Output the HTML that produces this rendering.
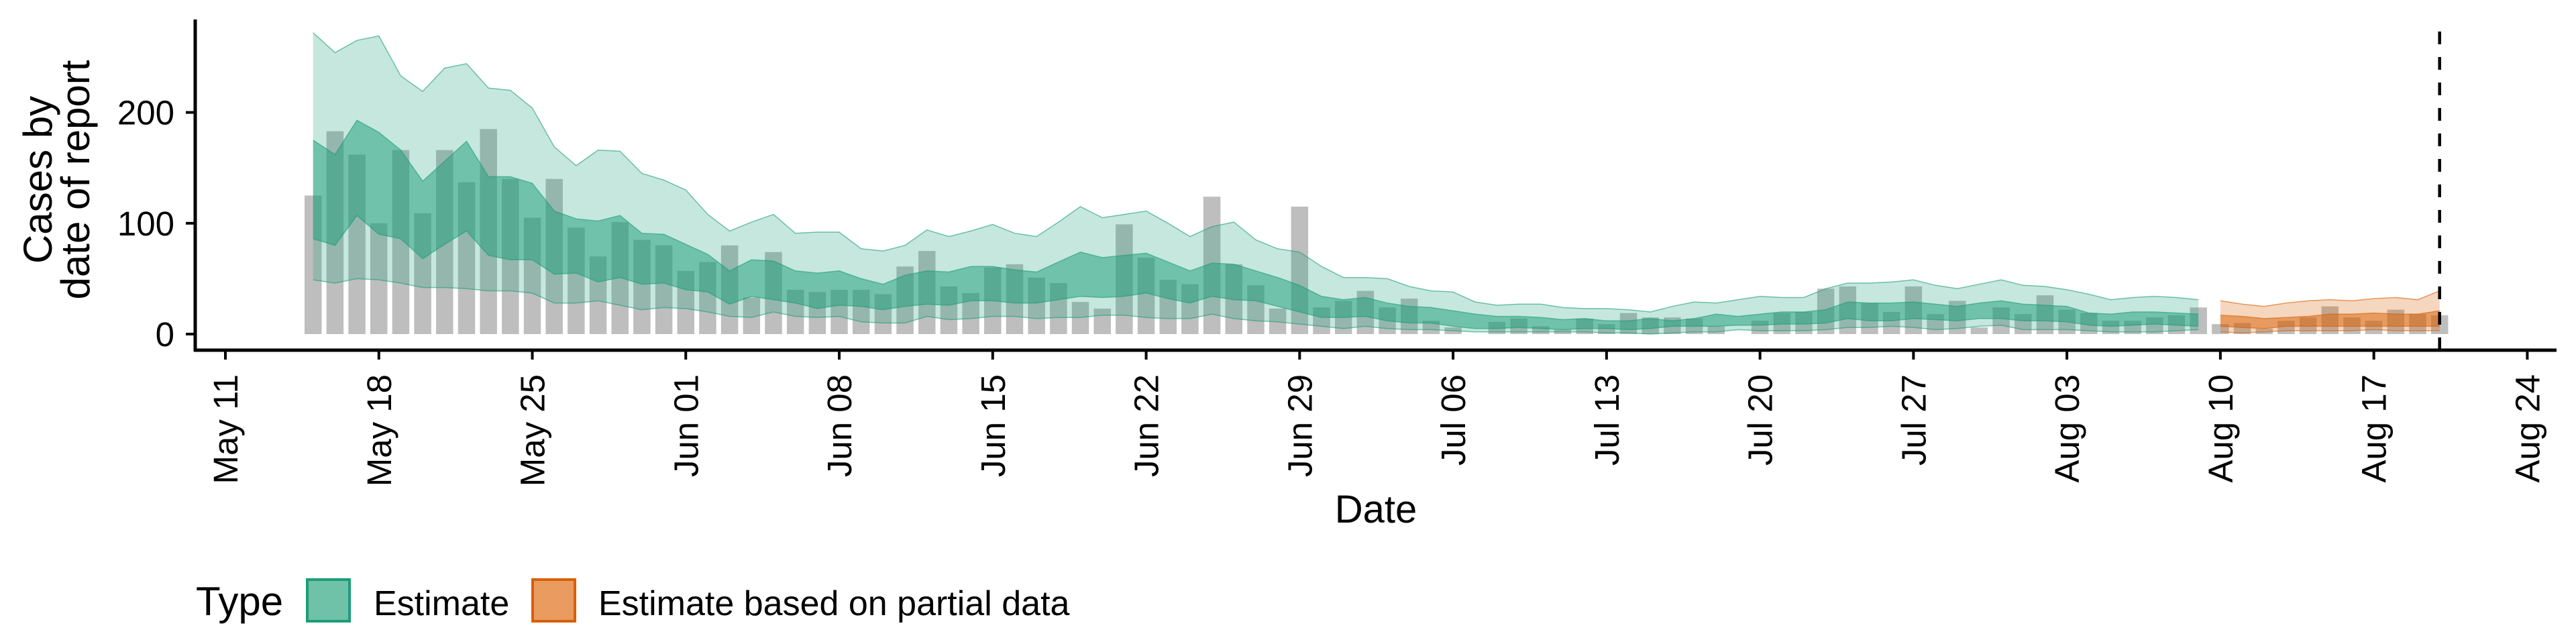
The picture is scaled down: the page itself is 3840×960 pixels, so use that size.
<!DOCTYPE html>
<html><head><meta charset="utf-8"><style>
html,body{margin:0;padding:0;background:#fff;}
svg{display:block;font-family:"Liberation Sans",sans-serif;}
</style></head><body>
<svg id="chart" width="3840" height="960" viewBox="0 0 3840 960" xmlns="http://www.w3.org/2000/svg">
<g id="bars"></g>
<g id="ribbons"></g>
<g id="axes"></g>
<g id="legend">
<text x="292" y="917" font-size="60">Type</text>
<rect x="458" y="864" width="63" height="62" fill="#6fc1a7" stroke="#1b9e77" stroke-width="4"/>
<text x="557" y="917" font-size="52">Estimate</text>
<rect x="794" y="864" width="63" height="62" fill="#e99b60" stroke="#d95f02" stroke-width="4"/>
<text x="892" y="917" font-size="52">Estimate based on partial data</text>
</g>
</svg>
<script>
const barValues=[125,183,162,100,166,109,166,137,185,140,105,140,96,70,101,85,80,
57,65,80,33,74,40,38,40,40,36,61,75,43,37,60,63,51,46,29,23,99,69,49,45,124,63,44,23,115,24,
30,39,24,32,12,6,0,11,14,7,4,14,9,19,15,15,14,7,0,12,19,20,41,43,28,20,43,18,30,6,24,
18,35,22,19,12,12,15,17,24,9,10,5,12,15,25,15,12,22,18,17];
const estOuterUpper=[272,254,265,269,233,219,240,244,222,220,204,169,152,166,165,145,139,
130,108,93,101,108,91,92,92,77,75,80,94,88,93,99,91,88,101,115,105,108,111,100,88,97,101,85,77,74,61,
51,51,50,43,39,38,29,26,27,27,24,23,23,22,20,25,29,28,31,34,33,33,41,46,46,47,49,44,41,45,49,
44,43,40,36,31,33,34,33,31];
const estInnerUpper=[175,162,193,182,166,138,156,174,142,142,136,111,104,102,107,91,90,
81,72,57,67,66,57,55,57,50,45,53,57,56,61,61,58,56,65,74,69,71,73,65,57,64,63,57,51,44,34,
31,33,28,25,24,21,18,16,16,15,13,14,12,12,14,12,14,18,16,18,20,20,22,29,28,28,29,27,25,28,30,
27,26,25,19,18,20,20,19,18];
const estInnerLower=[86,80,107,90,86,68,81,93,71,67,67,54,55,47,51,45,46,
40,38,27,34,31,28,23,26,25,22,25,27,26,30,30,28,28,31,34,33,34,37,32,28,34,31,30,25,20,15,
15,16,12,10,10,7,5,5,6,5,4,5,5,4,5,7,7,7,8,8,9,9,10,14,12,12,14,13,12,14,14,
12,12,11,8,7,8,9,8,7];
const estOuterLower=[49,46,50,49,46,42,42,41,39,39,37,28,28,30,26,22,24,
23,20,16,15,20,16,15,16,11,10,10,16,13,14,16,16,14,15,15,17,17,15,14,14,18,14,12,11,9,7,
5,7,5,4,4,3,2,2,2,2,2,2,1,1,0,1,2,2,4,3,3,3,4,6,6,7,6,4,5,7,8,
4,4,4,3,2,2,2,3,4];
const partOuterUpper=[30,27,25,28,30,31,30,32,33,31,39];
const partInnerUpper=[17,16,14,15,16,18,18,19,18,18,21];
const partInnerLower=[7,6,5,7,7,7,7,7,7,7,7];
const partOuterLower=[2,1,2,3,3,3,3,4,3,3,3];
const yTicks=[0,100,200];
const xTickLabels=["May 11","May 18","May 25","Jun 01","Jun 08","Jun 15","Jun 22","Jun 29","Jul 06","Jul 13","Jul 20","Jul 27","Aug 03","Aug 10","Aug 17","Aug 24"];
const firstDay=4;        // May 15 as days since May 11
const partialStart=91;   // Aug 10
const lastDay=101;       // Aug 20

const NS="http://www.w3.org/2000/svg";
const X0=336, DX=32.68, Y0=498, KY=1.652;
function xs(d){return X0+DX*d;}
function ys(v){return Y0-KY*v;}
function mk(tag,attrs,parent){const e=document.createElementNS(NS,tag);for(const k in attrs)e.setAttribute(k,attrs[k]);parent.appendChild(e);return e;}

const gB=document.getElementById('bars');
barValues.forEach((v,i)=>{const d=firstDay+i;const w=DX*0.78;
const r=mk('rect',{x:xs(d)-w/2,y:ys(v),width:w,height:Math.max(0,ys(0)-ys(v)),fill:'#bebebe'},gB);

});

const gR=document.getElementById('ribbons');
function ribbon(lo,hi,start,color,op,name){
 const top=hi.map((v,i)=>xs(start+i).toFixed(1)+','+ys(v).toFixed(1));
 const bot=lo.map((v,i)=>xs(start+i).toFixed(1)+','+ys(v).toFixed(1)).reverse();
 const p=mk('polygon',{points:top.concat(bot).join(' '),fill:color,'fill-opacity':op,stroke:'none'},gR);
 
 
 [hi,lo].forEach(arr=>{const l=mk('polyline',{points:arr.map((v,i)=>xs(start+i).toFixed(1)+','+ys(v).toFixed(1)).join(' '),fill:'none',stroke:color,'stroke-width':1.5,'stroke-opacity':0.6},gR);
 
 });
}
ribbon(estOuterLower,estOuterUpper,firstDay,'#1b9e77',0.25,'estimate-90-band');
ribbon(estInnerLower,estInnerUpper,firstDay,'#1b9e77',0.5,'estimate-50-band');
ribbon(partOuterLower,partOuterUpper,partialStart,'#d95f02',0.25,'partial-90-band');
ribbon(partInnerLower,partInnerUpper,partialStart,'#d95f02',0.5,'partial-50-band');

const gA=document.getElementById('axes');
let e;
e=mk('line',{x1:xs(lastDay),x2:xs(lastDay),y1:47,y2:521,stroke:'#000','stroke-width':4.5,'stroke-dasharray':'19 19'},gA);


e=mk('line',{x1:291,x2:291,y1:29,y2:524,stroke:'#000','stroke-width':5},gA);


e=mk('line',{x1:289,x2:3811,y1:522,y2:522,stroke:'#000','stroke-width':5},gA);


yTicks.forEach(v=>{
 e=mk('line',{x1:277,x2:291,y1:ys(v),y2:ys(v),stroke:'#000','stroke-width':4},gA);
 
 
 e=mk('text',{x:260,y:ys(v)+18,'text-anchor':'end','font-size':51},gA);
 e.textContent=v;
 
 
});
xTickLabels.forEach((lab,i)=>{const x=xs(i*7);
 e=mk('line',{x1:x,x2:x,y1:522,y2:536,stroke:'#000','stroke-width':4},gA);
 
 
 e=mk('text',{x:0,y:0,'text-anchor':'end','font-size':51,transform:'translate('+(x+18)+',558) rotate(-90)'},gA);
 e.textContent=lab;
 
 
});
e=mk('text',{x:2051,y:779,'text-anchor':'middle','font-size':58},gA);
e.textContent='Date';


e=mk('text',{x:0,y:0,'text-anchor':'middle','font-size':60,transform:'translate(77,268) rotate(-90)'},gA);
e.textContent='Cases by';


e=mk('text',{x:0,y:0,'text-anchor':'middle','font-size':60,transform:'translate(133,268) rotate(-90)'},gA);
e.textContent='date of report';


</script>
</body></html>
